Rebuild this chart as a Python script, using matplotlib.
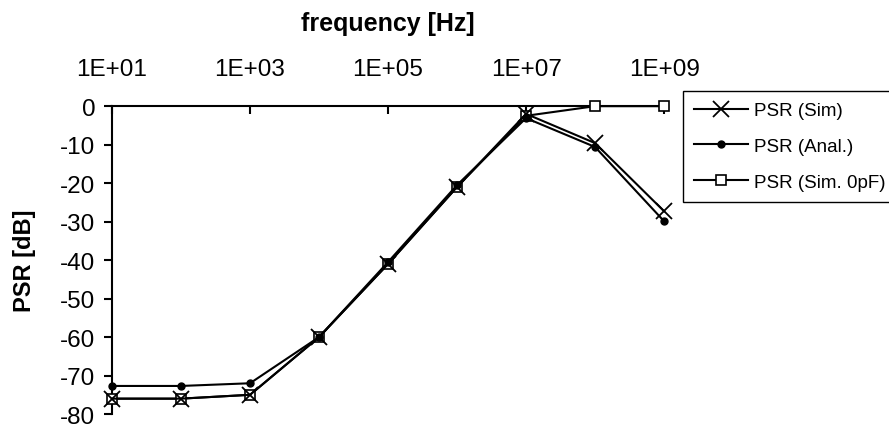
import matplotlib
matplotlib.use("Agg")
import matplotlib.pyplot as plt
from matplotlib.ticker import FuncFormatter, NullLocator

plt.rcParams['font.family'] = ['Liberation Sans', 'DejaVu Sans']
plt.rcParams['axes.unicode_minus'] = False

# data
freq = [1e1, 1e2, 1e3, 1e4, 1e5, 1e6, 1e7, 1e8, 1e9]
psr_sim = [-76, -76, -75, -60, -41, -21, -2, -9.6, -27.3]
psr_anal = [-72.7, -72.7, -72, -60, -40.5, -20.5, -3.1, -10.6, -29.9]
psr_sim0 = [-76, -76, -75, -60, -41, -21, -2.5, 0, 0]

xticks = [1e1, 1e3, 1e5, 1e7, 1e9]
yticks = list(range(-80, 1, 10))

fig = plt.figure(figsize=(8.89, 4.27), dpi=100)
ax = fig.add_axes([0.126, 0.028, 0.621, 0.721])

ax.plot(freq, psr_sim, color='black', lw=1.5, marker='x', ms=11, mew=1.3,
        clip_on=False, label='PSR (Sim)', zorder=5)
ax.plot(freq, psr_anal, color='black', lw=1.5, marker='o', ms=5,
        clip_on=False, label='PSR (Anal.)', zorder=4)
ax.plot(freq, psr_sim0, color='black', lw=1.5, marker='s', ms=7, mfc='white',
        mew=1.2, clip_on=False, label='PSR (Sim. 0pF)', zorder=3)

ax.set_xscale('log')
ax.set_xlim(1e1, 1e9)
ax.set_ylim(-80, 0)
ax.set_xticks(xticks)
ax.xaxis.set_minor_locator(NullLocator())
ax.xaxis.set_major_formatter(FuncFormatter(lambda v, p: f"{v:.0E}"))
ax.set_yticks(yticks)

ax.xaxis.tick_top()
ax.xaxis.set_label_position('top')
ax.spines['bottom'].set_visible(False)
ax.spines['right'].set_visible(False)
ax.spines['top'].set_linewidth(1.5)
ax.spines['left'].set_linewidth(1.5)
ax.tick_params(axis='x', direction='in', length=6, width=1.5, labelsize=17.5, pad=19)
ax.tick_params(axis='y', direction='out', length=6, width=1.5, labelsize=17.5, pad=6)

ax.set_xlabel('frequency [Hz]', fontsize=18, fontweight='bold')
ax.xaxis.set_label_coords(0.5, 1.248)
ax.set_ylabel('PSR [dB]', fontsize=17, fontweight='bold')
ax.yaxis.set_label_coords(-0.137, 0.5)

fig.legend(loc='upper left', bbox_to_anchor=(0.768, 0.785), borderaxespad=0,
           fontsize=13.5, frameon=True, fancybox=False, edgecolor='black',
           framealpha=1, handlelength=2.9, borderpad=0.6, labelspacing=1.0,
           handletextpad=0.3)

fig.savefig('out.png', dpi=100)
